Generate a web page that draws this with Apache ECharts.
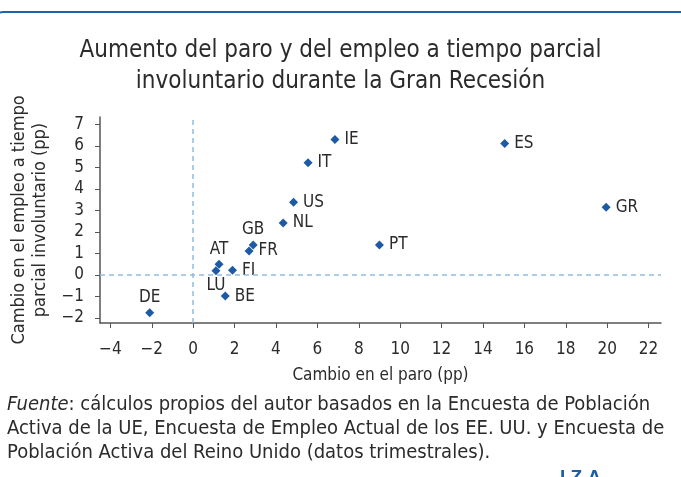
<!DOCTYPE html>
<html>
<head>
<meta charset="utf-8">
<script src="https://cdn.jsdelivr.net/npm/echarts@6/dist/echarts.min.js"></script>
<style>
  html, body { margin: 0; padding: 0; background: #fff; }
  #chart { width: 681px; height: 477px; }
</style>
</head>
<body>
<div id="chart"></div>
<script>
// datos
var countries = ['DE', 'AT', 'LU', 'FI', 'BE', 'FR', 'GB', 'NL', 'US', 'IT', 'IE', 'PT', 'ES', 'GR'];
var paro = [-2.1, 1.25, 1.1, 1.9, 1.55, 2.7, 2.9, 4.35, 4.85, 5.55, 6.85, 9.0, 15.05, 19.95];
var empleoParcial = [-1.75, 0.5, 0.2, 0.22, -0.98, 1.12, 1.4, 2.42, 3.38, 5.22, 6.3, 1.4, 6.12, 3.15];
var xTicks = [-4, -2, 0, 2, 4, 6, 8, 10, 12, 14, 16, 18, 20, 22];
var yTicks = [-2, -1, 0, 1, 2, 3, 4, 5, 6, 7];

// posición de cada etiqueta
var labelPos = {
  DE: 'top', AT: 'top', LU: 'bottom', GB: 'top'
};

var font = "'Liberation Sans Narrow', 'DejaVu Sans Condensed', 'Roboto', sans-serif";
var txt = '#2b2b2b';
var azul = '#1d5aa6';

var chart = echarts.init(document.getElementById('chart'));

var puntos = countries.map(function (c, i) {
  var item = { name: c, value: [paro[i], empleoParcial[i]] };
  if (labelPos[c]) {
    item.label = { position: labelPos[c], distance: 2 };
  }
  return item;
});

function menos(v) { return String(v).replace('-', '\u2212'); }

chart.setOption({
  animation: false,
  title: {
    text: 'Aumento del paro y del empleo a tiempo parcial\ninvoluntario durante la Gran Recesión',
    left: 'center',
    top: 30,
    textStyle: { fontFamily: font, fontSize: 24, fontWeight: 'normal', color: txt, lineHeight: 31 }
  },
  grid: { left: 100, right: 20, top: 117, bottom: 154 },
  xAxis: {
    type: 'value',
    min: -4.5,
    max: 22.6,
    name: 'Cambio en el paro (pp)',
    nameLocation: 'middle',
    nameGap: 44,
    nameTextStyle: { fontFamily: font, fontSize: 17, color: txt },
    splitLine: { show: false },
    axisLine: { show: true, onZero: false, lineStyle: { color: '#555', width: 1.5 } },
    axisTick: { show: true, length: 5, lineStyle: { color: '#555' }, customValues: xTicks },
    axisLabel: { fontFamily: font, fontSize: 17, color: txt, margin: 18, customValues: xTicks, formatter: menos }
  },
  yAxis: {
    type: 'value',
    min: -2.23,
    max: 7.35,
    name: 'Cambio en el empleo a tiempo\nparcial involuntario (pp)',
    nameLocation: 'middle',
    nameRotate: 90,
    nameGap: 44,
    nameTextStyle: { fontFamily: font, fontSize: 18, color: txt, lineHeight: 21 },
    splitLine: { show: false },
    axisLine: { show: true, onZero: false, lineStyle: { color: '#555', width: 1.5 } },
    axisTick: { show: true, length: 5, lineStyle: { color: '#555' }, customValues: yTicks },
    axisLabel: { fontFamily: font, fontSize: 17, color: txt, margin: 16, customValues: yTicks, formatter: menos }
  },
  series: [
    {
      type: 'scatter',
      symbol: 'diamond',
      symbolSize: 9,
      itemStyle: { color: azul, opacity: 1 },
      data: puntos,
      label: {
        show: true,
        position: 'right',
        distance: 5,
        formatter: '{b}',
        fontFamily: font,
        fontSize: 17,
        color: txt
      },
      markLine: {
        silent: true,
        symbol: 'none',
        label: { show: false },
        lineStyle: { type: [5, 4], color: '#8fbde8', width: 1.5 },
        data: [{ xAxis: 0 }, { yAxis: 0 }]
      },
      z: 3
    }
  ],
  graphic: [
    {
      type: 'rect',
      shape: { x: -6, y: 12, width: 700, height: 600, r: 9 },
      style: { fill: 'none', stroke: '#1b63ad', lineWidth: 2 }
    },
    {
      type: 'text',
      left: 7,
      top: 393,
      style: {
        text: '{i|Fuente}: cálculos propios del autor basados en la Encuesta de Población\nActiva de la UE, Encuesta de Empleo Actual de los EE. UU. y Encuesta de\nPoblación Activa del Reino Unido (datos trimestrales).',
        fontFamily: font,
        fontSize: 20,
        lineHeight: 24,
        fill: txt,
        rich: {
          i: { fontStyle: 'italic', fontFamily: font, fontSize: 20, fill: txt }
        }
      }
    },
    {
      type: 'text',
      left: 560,
      top: 468,
      style: { text: 'I Z A', fontFamily: 'Liberation Sans', fontWeight: 'bold', fontSize: 19, fill: '#1b5fa8' }
    }
  ]
});
</script>
</body>
</html>
